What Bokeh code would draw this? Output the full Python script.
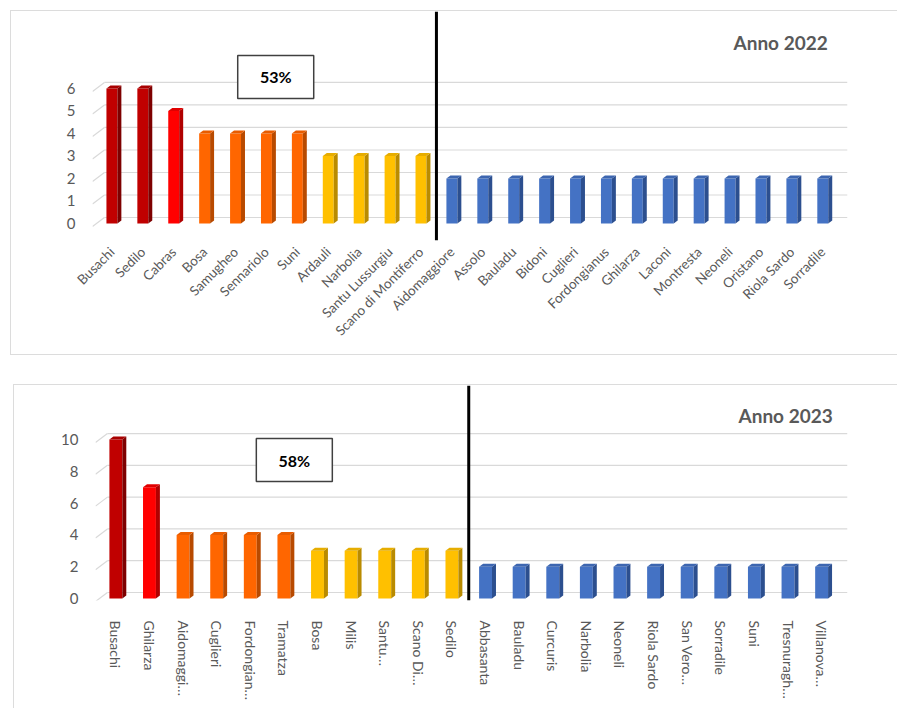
import math

from bokeh.embed import file_html
from bokeh.layouts import column
from bokeh.models import FixedTicker, Label, Span
from bokeh.plotting import figure
from bokeh.resources import INLINE

# ---- data -------------------------------------------------------------
towns_2022 = ["Busachi", "Sedilo", "Cabras", "Bosa", "Samugheo", "Sennariolo",
              "Suni", "Ardauli", "Narbolia", "Santu Lussurgiu",
              "Scano di Montiferro", "Aidomaggiore", "Assolo", "Bauladu",
              "Bidoni", "Cuglieri", "Fordongianus", "Ghilarza", "Laconi",
              "Montresta", "Neoneli", "Oristano", "Riola Sardo", "Sorradile"]
counts_2022 = [6, 6, 5, 4, 4, 4, 4, 3, 3, 3, 3,
               2, 2, 2, 2, 2, 2, 2, 2, 2, 2, 2, 2, 2]
ticks_2022 = [0, 1, 2, 3, 4, 5, 6]
share_2022 = "53%"
title_2022 = "Anno 2022"

towns_2023 = ["Busachi", "Ghilarza", "Aidomaggi…", "Cuglieri", "Fordongian…",
              "Tramatza", "Bosa", "Milis", "Santu…", "Scano Di…", "Sedilo",
              "Abbasanta", "Bauladu", "Curcuris", "Narbolia", "Neoneli",
              "Riola Sardo", "San Vero…", "Sorradile", "Suni", "Tresnuragh…",
              "Villanova…"]
counts_2023 = [10, 7, 4, 4, 4, 4, 3, 3, 3, 3, 3,
               2, 2, 2, 2, 2, 2, 2, 2, 2, 2, 2]
ticks_2023 = [0, 2, 4, 6, 8, 10]
share_2023 = "58%"
title_2023 = "Anno 2023"

# one colour tier per distinct count, highest first
FRONT = ["#C00000", "#FF0000", "#FF6600", "#FFC000", "#4472C4"]
SIDE = ["#7E0000", "#B00000", "#B84A00", "#B98B00", "#2C4F8F"]
TOP = ["#A80000", "#E00000", "#E85C00", "#E6AD00", "#3D66B0"]

FONT = "Lato"
GRID = "#D9D9D9"
INK = "#595959"


def panel(towns, counts, ticks, share, title, *, width, height, mb_left,
          mb_right, mb_bottom, x_rng, y_rng, bar_px, label_angle, label_size,
          label_standoff, ytick_standoff, box_at, title_at, styles, margin):
    p = figure(width=width, height=height, x_range=x_rng, y_range=y_rng,
               output_backend="svg", toolbar_location=None,
               min_border_left=mb_left, min_border_right=mb_right,
               min_border_top=0, min_border_bottom=mb_bottom,
               background_fill_color="white", border_fill_color="white")
    p.outline_line_color = None
    p.xgrid.grid_line_color = None
    p.ygrid.grid_line_color = None
    p.styles = styles
    p.margin = margin

    frame_w = width - mb_left - mb_right
    frame_h = height - mb_bottom
    ux = frame_w / (x_rng[1] - x_rng[0])   # px per category
    uy = frame_h / (y_rng[1] - y_rng[0])   # px per count

    # back-wall gridlines with a short perspective stub on the left
    gx, gy, g0 = 12 / ux, 6 / uy, 3 / uy
    xs0 = x_rng[0]
    p.segment(x0=[xs0 + gx] * len(ticks), y0=[t + gy for t in ticks],
              x1=[x_rng[1]] * len(ticks), y1=[t + gy for t in ticks],
              line_color=GRID, line_width=1.2)
    p.segment(x0=[xs0] * len(ticks), y0=[t - g0 for t in ticks],
              x1=[xs0 + gx] * len(ticks), y1=[t + gy for t in ticks],
              line_color=GRID, line_width=1.2)

    # 3-D columns: front face, right side and top
    tiers = sorted(set(counts), reverse=True)
    w = bar_px / ux
    dx, dy = 4 / ux, 3 / uy
    xs = list(range(len(towns)))
    tier = [tiers.index(c) for c in counts]
    p.quad(left=[x - w / 2 for x in xs], right=[x + w / 2 for x in xs],
           bottom=0, top=counts, fill_color=[FRONT[t] for t in tier],
           line_color=None)
    side_x = [[x + w / 2, x + w / 2 + dx, x + w / 2 + dx, x + w / 2] for x in xs]
    side_y = [[0, dy, c + dy, c] for c in counts]
    p.patches(side_x, side_y, fill_color=[SIDE[t] for t in tier], line_color=None)
    top_x = [[x - w / 2, x - w / 2 + dx, x + w / 2 + dx, x + w / 2] for x in xs]
    top_y = [[c, c + dy, c + dy, c] for c in counts]
    p.patches(top_x, top_y, fill_color=[TOP[t] for t in tier], line_color=None)

    # divider before the group of towns at the lowest count
    first_low = counts.index(min(counts))
    p.add_layout(Span(location=first_low - 0.5, dimension="height",
                      line_color="black", line_width=3))

    # share box
    p.rect(x=[box_at[0]], y=[box_at[1]], width=76, height=43,
           width_units="screen", height_units="screen",
           fill_color="white", line_color="#404040", line_width=1.5)
    p.add_layout(Label(x=box_at[0], y=box_at[1], text=share,
                       text_align="center", text_baseline="middle",
                       text_font=FONT, text_font_style="bold",
                       text_font_size="16px", text_color="black"))
    p.add_layout(Label(x=title_at[0], y=title_at[1], text=title,
                       text_align="right", text_baseline="middle",
                       text_font=FONT, text_font_style="bold",
                       text_font_size="19px", text_color=INK))

    # axes
    p.xaxis.ticker = FixedTicker(ticks=xs)
    p.xaxis.major_label_overrides = {i: t for i, t in enumerate(towns)}
    p.xaxis.major_label_orientation = label_angle
    p.xaxis.major_label_text_font = FONT
    p.xaxis.major_label_text_font_size = label_size
    p.xaxis.major_label_text_color = INK
    p.xaxis.major_label_standoff = label_standoff
    p.xaxis.axis_line_color = None
    p.xaxis.major_tick_line_color = None
    p.xaxis.minor_tick_line_color = None

    p.yaxis.ticker = FixedTicker(ticks=ticks)
    p.yaxis.major_label_text_font = FONT
    p.yaxis.major_label_text_font_size = "15px"
    p.yaxis.major_label_text_color = INK
    p.yaxis.major_label_standoff = ytick_standoff
    p.yaxis.axis_line_color = None
    p.yaxis.major_tick_line_color = None
    p.yaxis.minor_tick_line_color = None
    return p


border = "1px solid #DCDCDC"

p1 = panel(towns_2022, counts_2022, ticks_2022, share_2022, title_2022,
           width=887, height=345, mb_left=77, mb_right=51, mb_bottom=116,
           x_rng=(-0.628, 23.80), y_rng=(-0.756, 9.42), bar_px=11,
           label_angle=math.pi / 4, label_size="13.5px", label_standoff=3,
           ytick_standoff=11, box_at=(5.30, 6.51), title_at=(23.16, 8.04),
           styles={"border-top": border, "border-left": border,
                   "border-bottom": border},
           margin=(10, 0, 0, 10))

p2 = panel(towns_2023, counts_2023, ticks_2023, share_2023, title_2023,
           width=884, height=324, mb_left=81, mb_right=46, mb_bottom=109,
           x_rng=(-0.606, 21.77), y_rng=(-0.126, 13.40), bar_px=13,
           label_angle="vertical", label_size="14px", label_standoff=14,
           ytick_standoff=11, box_at=(5.31, 8.71), title_at=(21.33, 11.5),
           styles={"border-top": border, "border-left": border},
           margin=(29, 0, 0, 13))

layout = column(p1, p2, spacing=0)
open("out.html", "w").write(file_html(layout, INLINE))
